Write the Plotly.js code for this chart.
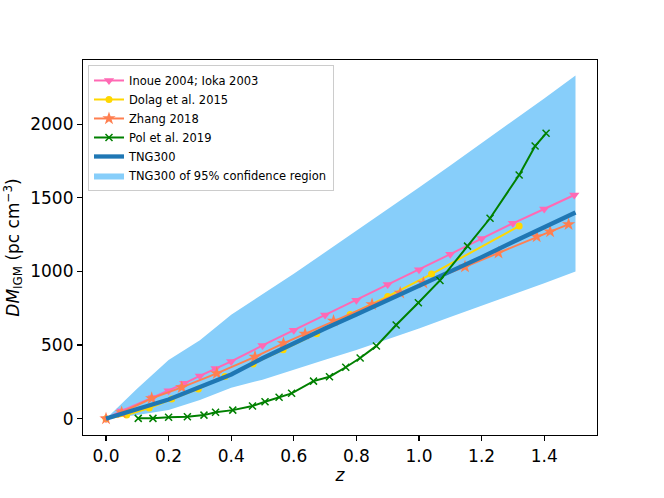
<!DOCTYPE html>
<html>
<head>
<meta charset="utf-8">
<script src="https://cdn.plot.ly/plotly-3.0.1.min.js"></script>
<style>html,body{margin:0;padding:0;background:#fff;}#plot{width:664px;height:498px;}</style>
</head>
<body>
<div id="plot"></div>
<script>
// ---- data ----
const bandZ     = [0, 0.1, 0.2, 0.3, 0.4, 0.5, 0.6, 0.7, 0.8, 0.9, 1.0, 1.1, 1.2, 1.3, 1.4, 1.5];
const bandUpper = [0, 205, 398, 533, 706, 845, 985, 1130, 1275, 1420, 1570, 1720, 1870, 2025, 2175, 2330];
const bandLower = [0, 25, 58, 126, 210, 265, 330, 400, 467, 537, 612, 690, 765, 845, 920, 1000];

const tngZ  = [0, 0.1, 0.2, 0.3, 0.4, 0.5, 0.6, 0.7, 0.8, 0.9, 1.0, 1.1, 1.2, 1.3, 1.4, 1.5];
const tngDM = [0, 62, 130, 215, 300, 410, 515, 612, 708, 805, 900, 995, 1097, 1200, 1300, 1400];

const inoueZ  = [0, 0.05, 0.15, 0.2, 0.25, 0.3, 0.35, 0.4, 0.5, 0.6, 0.7, 0.8, 0.9, 1.0, 1.1, 1.2, 1.3, 1.4, 1.496];
const inoueDM = [0, 52, 144, 190, 240, 290, 340, 389, 497, 600, 704, 805, 912, 1012, 1117, 1223, 1327, 1424, 1519];

const dolagZ  = [0, 0.066, 0.138, 0.21, 0.295, 0.38, 0.47, 0.566, 0.673, 0.78, 0.9, 1.04, 1.32];
const dolagDM = [0, 25, 72, 133, 202, 287, 372, 468, 577, 708, 830, 982, 1308];

const zhangZ  = [0, 0.05, 0.146, 0.242, 0.354, 0.476, 0.567, 0.636, 0.727, 0.85, 0.94, 1.014, 1.147, 1.254, 1.376, 1.419, 1.478];
const zhangDM = [0, 42, 138, 212, 308, 420, 511, 575, 664, 776, 854, 922, 1032, 1127, 1236, 1270, 1320];

const polZ  = [0.103, 0.15, 0.2, 0.26, 0.313, 0.35, 0.405, 0.468, 0.508, 0.553, 0.593, 0.663, 0.714, 0.766, 0.812, 0.864, 0.927, 0.998, 1.067, 1.155, 1.227, 1.32, 1.371, 1.406];
const polDM = [2, 2, 9, 13, 24, 43, 58, 86, 115, 145, 172, 255, 285, 349, 412, 494, 636, 787, 939, 1172, 1361, 1655, 1852, 1938];

const xTicks = [0, 0.2, 0.4, 0.6, 0.8, 1.0, 1.2, 1.4];
const yTicks = [0, 500, 1000, 1500, 2000];

// ---- traces ----
const FONT = 'DejaVu Sans, Liberation Sans, sans-serif';

const band = {
  x: bandZ.concat(bandZ.slice().reverse()),
  y: bandUpper.concat(bandLower.slice().reverse()),
  type: 'scatter', mode: 'lines', fill: 'toself',
  fillcolor: '#87CEFA', line: {width: 0, color: '#87CEFA'},
  name: 'TNG300 of 95% confidence region', legendrank: 6, hoverinfo: 'skip'
};
const inoue = {
  x: inoueZ, y: inoueDM, type: 'scatter', mode: 'lines+markers',
  line: {color: '#FF69B4', width: 2},
  marker: {symbol: 'triangle-down', size: 9, color: '#FF69B4'},
  name: 'Inoue 2004; Ioka 2003', legendrank: 1
};
const dolag = {
  x: dolagZ, y: dolagDM, type: 'scatter', mode: 'lines+markers',
  line: {color: '#FFD700', width: 2},
  marker: {symbol: 'circle', size: 7, color: '#FFD700'},
  name: 'Dolag et al. 2015', legendrank: 2
};
const zhang = {
  x: zhangZ, y: zhangDM, type: 'scatter', mode: 'lines+markers',
  line: {color: '#FF7F50', width: 2},
  marker: {symbol: 'star', size: 10, color: '#FF7F50'},
  name: 'Zhang 2018', legendrank: 3
};
const tng = {
  x: tngZ, y: tngDM, type: 'scatter', mode: 'lines',
  line: {color: '#1f77b4', width: 4.3},
  name: 'TNG300', legendrank: 5
};
const pol = {
  x: polZ, y: polDM, type: 'scatter', mode: 'lines+markers',
  line: {color: 'green', width: 2},
  marker: {symbol: 'x-thin', size: 7, color: 'green', line: {color: 'green', width: 1.5}},
  name: 'Pol et al. 2019', legendrank: 4
};

const axisCommon = {
  showgrid: false, zeroline: false,
  showline: true, mirror: true, linecolor: '#000', linewidth: 1.1,
  ticks: 'outside', ticklen: 5, tickwidth: 1.1, tickcolor: '#000',
  tickfont: {family: FONT, size: 17, color: '#000'}
};

const layout = {
  width: 664, height: 498,
  margin: {l: 83, r: 67, t: 60, b: 63},
  paper_bgcolor: '#fff', plot_bgcolor: '#fff',
  font: {family: FONT, color: '#000'},
  showlegend: true,
  xaxis: Object.assign({}, axisCommon, {
    range: [-0.0735, 1.5687],
    tickvals: xTicks, ticktext: xTicks.map(v => v.toFixed(1)),
    title: {text: '<i>z</i>', font: {family: FONT, size: 17, color: '#000'}, standoff: 1}
  }),
  yaxis: Object.assign({}, axisCommon, {
    range: [-111, 2436],
    tickvals: yTicks, ticktext: yTicks.map(String),
    title: {text: '<i>DM</i><sub>IGM</sub> (pc cm<sup>\u22123</sup>)', font: {family: FONT, size: 17, color: '#000'}, standoff: 6}
  }),
  legend: {
    x: 0.0097, y: 0.9867, xanchor: 'left', yanchor: 'top',
    bgcolor: 'rgba(255,255,255,0.8)', bordercolor: '#cccccc', borderwidth: 1,
    font: {family: FONT, size: 11.5, color: '#000'},
    itemwidth: 30, tracegroupgap: 0
  }
};

Plotly.newPlot('plot', [band, inoue, dolag, zhang, tng, pol], layout, {displayModeBar: false, staticPlot: true});
</script>
</body>
</html>
